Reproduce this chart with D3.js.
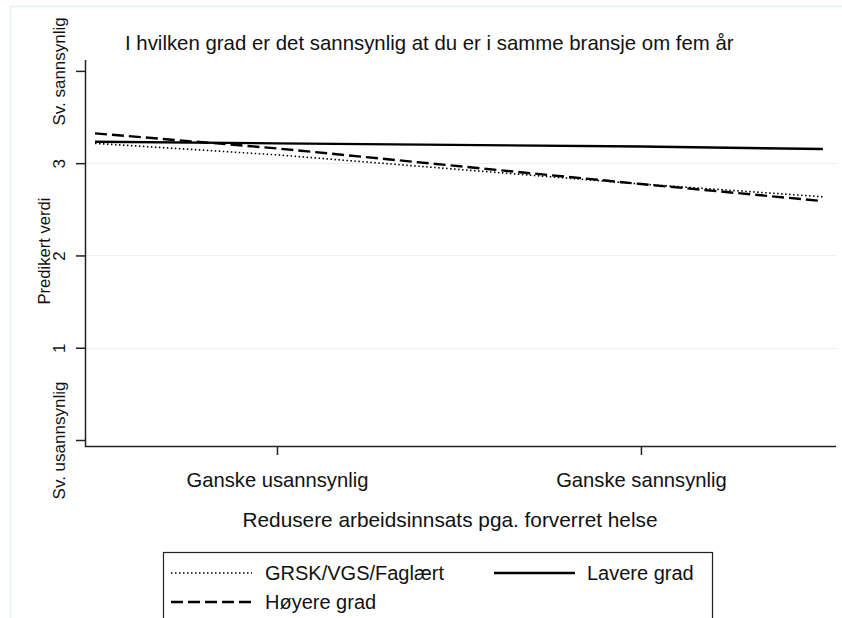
<!DOCTYPE html>
<html>
<head>
<meta charset="utf-8">
<script src="https://cdn.jsdelivr.net/npm/d3@7"></script>
<style>
  body { margin: 0; background: #fff; }
  text { font-family: "Liberation Sans", Arial, sans-serif; fill: #111; }
</style>
</head>
<body>
<script>
// data
var xValues = [1.5, 2, 3, 3.5];
var grskValues = [3.215, 3.09, 2.774, 2.636];
var lavereValues = [3.232, 3.215, 3.18, 3.153];
var hoyereValues = [3.323, 3.16, 2.774, 2.589];
var xTickValues = [2, 3];
var xTickLabels = ["Ganske usannsynlig", "Ganske sannsynlig"];
var yTickValues = [0, 1, 2, 3, 4];
var yTickLabels = ["Sv. usannsynlig", "1", "2", "3", "Sv. sannsynlig"];
var seriesNames = ["GRSK/VGS/Faglært", "Lavere grad", "Høyere grad"];

var width = 842;
var height = 618;

var svg = d3.select("body").append("svg")
	.attr("width", width)
	.attr("height", height);

// outer frame (light)
svg.append("path")
	.attr("d", "M10.5," + height + "V6.5H" + width)
	.attr("fill", "none")
	.attr("stroke", "#e6eff1")
	.attr("stroke-width", 1.5);

var x = d3.scaleLinear().domain([1.4725, 3.536]).range([85, 836]);
var y = d3.scaleLinear().domain([-0.065, 4.118]).range([446, 60]);

// grid lines
svg.selectAll("line.grid").data([1, 2, 3]).enter().append("line")
	.attr("class", "grid")
	.attr("x1", 86)
	.attr("x2", 836)
	.attr("y1", function(d) { return Math.round(y(d)) + 0.5; })
	.attr("y2", function(d) { return Math.round(y(d)) + 0.5; })
	.attr("stroke", "#e8f0f2")
	.attr("stroke-width", 1);

// y axis
var yAxis = svg.append("g")
	.attr("transform", "translate(85,0)")
	.call(d3.axisLeft(y).tickValues(yTickValues).tickSizeOuter(0).tickSize(9)
		.tickFormat(function(d, i) { return yTickLabels[i]; }));
yAxis.selectAll("text")
	.attr("transform", "rotate(-90)")
	.attr("text-anchor", "middle")
	.attr("x", 0)
	.attr("y", -20)
	.attr("dy", null)
	.style("font-size", "17px");

// x axis
var xAxis = svg.append("g")
	.attr("transform", "translate(0,446)")
	.call(d3.axisBottom(x).tickValues(xTickValues).tickSizeOuter(0).tickSize(9)
		.tickFormat(function(d, i) { return xTickLabels[i]; }));
xAxis.selectAll("text")
	.attr("y", 41)
	.attr("dy", null)
	.style("font-size", "20.2px");

svg.selectAll(".domain").remove();
svg.selectAll(".tick line")
	.attr("stroke", "#222")
	.attr("stroke-width", 1.5);

// axis lines
svg.append("path")
	.attr("d", "M85.5,60V446.5H836")
	.attr("fill", "none")
	.attr("stroke", "#222")
	.attr("stroke-width", 1.5);

// titles
svg.append("text")
	.attr("x", 125)
	.attr("y", 50)
	.style("font-size", "20.4px")
	.text("I hvilken grad er det sannsynlig at du er i samme bransje om fem år");

svg.append("text")
	.attr("transform", "translate(50,251) rotate(-90)")
	.attr("text-anchor", "middle")
	.style("font-size", "16.6px")
	.text("Predikert verdi");

svg.append("text")
	.attr("x", 450)
	.attr("y", 527)
	.attr("text-anchor", "middle")
	.style("font-size", "20.8px")
	.text("Redusere arbeidsinnsats pga. forverret helse");

// lines
var line = d3.line()
	.x(function(d) { return x(d[0]); })
	.y(function(d) { return y(d[1]); });

var styles = [
	{ width: 1.6, dash: "1.5,2.5" },
	{ width: 2.4, dash: null },
	{ width: 2.4, dash: "12,5" }
];
var allSeries = [grskValues, lavereValues, hoyereValues];

allSeries.forEach(function(vals, i) {
	svg.append("path")
		.datum(d3.zip(xValues, vals))
		.attr("d", line)
		.attr("fill", "none")
		.attr("stroke", "#000")
		.attr("stroke-width", styles[i].width)
		.attr("stroke-dasharray", styles[i].dash);
});

// legend
var legend = svg.append("g");
legend.append("rect")
	.attr("x", 163.5)
	.attr("y", 552.5)
	.attr("width", 549)
	.attr("height", 80)
	.attr("fill", "#fff")
	.attr("stroke", "#222")
	.attr("stroke-width", 1.2);

var legendPos = [[171, 573], [494, 573], [171, 602]];
seriesNames.forEach(function(name, i) {
	var p = legendPos[i];
	legend.append("line")
		.attr("x1", p[0]).attr("x2", p[0] + 81)
		.attr("y1", p[1]).attr("y2", p[1])
		.attr("stroke", "#000")
		.attr("stroke-width", styles[i].width)
		.attr("stroke-dasharray", styles[i].dash);
	legend.append("text")
		.attr("x", p[0] + (i === 1 ? 93 : 94))
		.attr("y", p[1] + 7)
		.style("font-size", "20px")
		.text(name);
});
</script>
</body>
</html>
